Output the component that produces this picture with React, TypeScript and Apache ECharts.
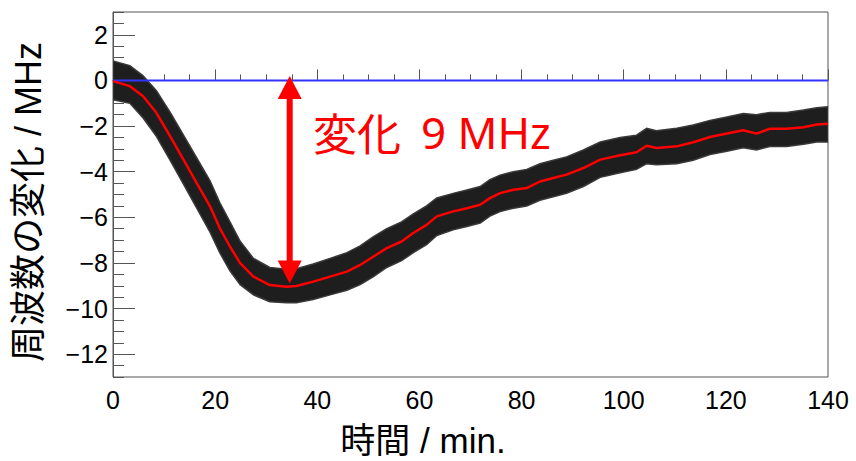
import React, { useEffect, useRef } from "react";
import * as echarts from "echarts";

// time (min) of each reading
const times = [0, 3.3, 5.9, 8.5, 11.2, 13.8, 16.4, 19.0, 20.9, 22.9, 24.9, 27.5, 30.7, 34.0, 35.9, 39.2, 42.5, 45.8, 48.4, 51.0, 53.6, 56.5, 58.8, 61.4, 63.4, 66.6, 69.3, 71.9, 73.8, 75.8, 78.4, 81.0, 83.6, 86.2, 88.8, 92.1, 95.4, 99.3, 102.5, 104.5, 106.4, 110.4, 113.6, 116.9, 120.2, 123.4, 126.0, 128.6, 131.9, 135.2, 137.8, 140];
// smoothed frequency change (MHz) - red curve
const smoothed = [-0.03, -0.25, -0.69, -1.42, -2.45, -3.47, -4.5, -5.52, -6.47, -7.28, -8.01, -8.6, -8.97, -9.04, -9.01, -8.82, -8.6, -8.38, -8.09, -7.72, -7.35, -7.06, -6.69, -6.33, -5.96, -5.74, -5.6, -5.45, -5.16, -4.94, -4.79, -4.72, -4.43, -4.28, -4.13, -3.84, -3.47, -3.28, -3.15, -2.86, -2.96, -2.89, -2.71, -2.48, -2.33, -2.18, -2.33, -2.12, -2.12, -2.05, -1.93, -1.9];
// upper / lower edge of the measured points with error bars (black band)
const bandHigh = [0.85, 0.65, 0.2, -0.45, -1.4, -2.4, -3.4, -4.4, -5.35, -6.2, -7.05, -7.8, -8.2, -8.28, -8.25, -8.05, -7.8, -7.55, -7.25, -6.85, -6.5, -6.2, -5.85, -5.5, -5.15, -4.95, -4.8, -4.65, -4.35, -4.15, -4.0, -3.9, -3.65, -3.5, -3.35, -3.05, -2.7, -2.5, -2.4, -2.1, -2.2, -2.1, -1.95, -1.75, -1.6, -1.45, -1.5, -1.4, -1.4, -1.3, -1.2, -1.15];
const bandLow = [-0.85, -1.0, -1.65, -2.45, -3.5, -4.55, -5.6, -6.65, -7.55, -8.35, -8.95, -9.4, -9.7, -9.75, -9.75, -9.6, -9.4, -9.2, -8.95, -8.6, -8.2, -7.9, -7.55, -7.2, -6.8, -6.55, -6.4, -6.25, -5.95, -5.75, -5.6, -5.5, -5.25, -5.1, -4.95, -4.65, -4.25, -4.05, -3.9, -3.65, -3.7, -3.65, -3.5, -3.25, -3.1, -2.95, -3.05, -2.9, -2.9, -2.8, -2.7, -2.7];
// reference (zero) line
const zeroLineX = [0, 140];
const zeroLineY = [0, 0];
// annotation arrow
const arrowTime = 34.6;
const arrowFrom = 0.2;
const arrowTo = -8.9;
const annotationCJK = "変化";
const annotationValue = "9 MHz";
// axes
const xMin = 0, xMax = 140, xInterval = 20;
const yMin = -13, yMax = 3;
const yMajorTicks = [-12, -10, -8, -6, -4, -2, 0, 2];
const xTitle = "時間 / min.";
const yTitle = "周波数の変化 / MHz";

const LATIN = "'Liberation Sans', 'Noto Sans CJK JP', sans-serif";

export default function App() {
  const ref = useRef<HTMLDivElement>(null);
  useEffect(() => {
    document.body.style.margin = "0";
    const chart = echarts.init(ref.current!, null, { renderer: "svg" });
    const fmt = (v: number) => String(v).replace("-", "\u2212");
    chart.setOption({
      animation: false,
      backgroundColor: "#ffffff",
      grid: { left: 113, right: 28, top: 12, bottom: 84, show: true, borderColor: "#555", borderWidth: 1, backgroundColor: "transparent" },
      xAxis: {
        type: "value", min: xMin, max: xMax, interval: xInterval,
        axisLine: { lineStyle: { color: "#555", width: 1 } },
        axisTick: { inside: true, length: 11, lineStyle: { color: "#555" } },
        minorTick: { show: true, splitNumber: 4, length: 6, lineStyle: { color: "#555" } },
        splitLine: { show: false },
        axisLabel: { fontFamily: LATIN, fontSize: 25, color: "#000", margin: 10, formatter: fmt, showMinLabel: true, showMaxLabel: true },
      },
      yAxis: [
        {
          type: "value", min: yMin, max: yMax, position: "left",
          axisLine: { show: true, lineStyle: { color: "#555", width: 1 } },
          axisTick: { inside: true, length: 22, lineStyle: { color: "#555" }, customValues: yMajorTicks },
          splitLine: { show: false },
          axisLabel: { fontFamily: LATIN, fontSize: 25, color: "#000", margin: 5, customValues: yMajorTicks, formatter: fmt },
        },
        {
          type: "value", min: yMin, max: yMax, interval: 0.5, position: "left", offset: 0,
          axisLine: { show: false },
          axisTick: { inside: true, length: 11, lineStyle: { color: "#555" } },
          splitLine: { show: false },
          axisLabel: { show: false },
        },
      ],
      series: [
        {
          type: "custom",
          name: "band",
          clip: true,
          data: [0],
          renderItem: (params: any, api: any) => {
            const up = times.map((t, i) => api.coord([t, bandHigh[i]]));
            const dn = times.map((t, i) => api.coord([t, bandLow[i]])).reverse();
            return { type: "polygon", shape: { points: up.concat(dn) }, style: { fill: "#1e1e1e", stroke: "#3a3a3a", lineWidth: 1.5 } };
          },
          z: 1,
        },
        {
          type: "line", name: "zero", data: zeroLineX.map((x, i) => [x, zeroLineY[i]]),
          symbol: "none", lineStyle: { color: "#3333ff", width: 2 }, z: 2,
        },
        {
          type: "line", name: "smoothed", data: times.map((t, i) => [t, smoothed[i]]),
          symbol: "none", lineStyle: { color: "#ff0000", width: 2.5 }, z: 3,
        },
        {
          type: "custom", name: "arrow", data: [[arrowTime, arrowFrom, arrowTo]], z: 4,
          renderItem: (params: any, api: any) => {
            const top = api.coord([api.value(0), api.value(1)]);
            const bot = api.coord([api.value(0), api.value(2)]);
            const x = top[0];
            const hl = 23, hw = 12, sw = 3;
            return {
              type: "group",
              children: [
                { type: "rect", shape: { x: x - sw, y: top[1] + hl - 1, width: sw * 2, height: bot[1] - top[1] - 2 * hl + 2 }, style: { fill: "#ff0000" } },
                { type: "polygon", shape: { points: [[x, top[1]], [x - hw, top[1] + hl], [x + hw, top[1] + hl]] }, style: { fill: "#ff0000" } },
                { type: "polygon", shape: { points: [[x, bot[1]], [x - hw, bot[1] - hl], [x + hw, bot[1] - hl]] }, style: { fill: "#ff0000" } },
              ],
            };
          },
        },
      ],
      graphic: [
        { type: "text", x: 28, y: 202, rotation: Math.PI / 2, style: { text: yTitle, font: `36px ${LATIN}`, fill: "#000", align: "center", verticalAlign: "middle" } },
        { type: "text", x: 423, y: 440, style: { text: xTitle, font: `35px ${LATIN}`, fill: "#000", align: "center", verticalAlign: "middle" } },
        { type: "text", x: 313, y: 132, style: { text: annotationCJK, font: `44px 'Noto Sans CJK JP', sans-serif`, fill: "#ff0000", align: "left", verticalAlign: "middle" } },
        { type: "text", x: 421, y: 132, style: { text: annotationValue, font: `44px 'Noto Sans', sans-serif`, fill: "#ff0000", align: "left", verticalAlign: "middle" } },
      ],
    });
    return () => chart.dispose();
  }, []);
  return <div ref={ref} style={{ width: 856, height: 461 }} />;
}
